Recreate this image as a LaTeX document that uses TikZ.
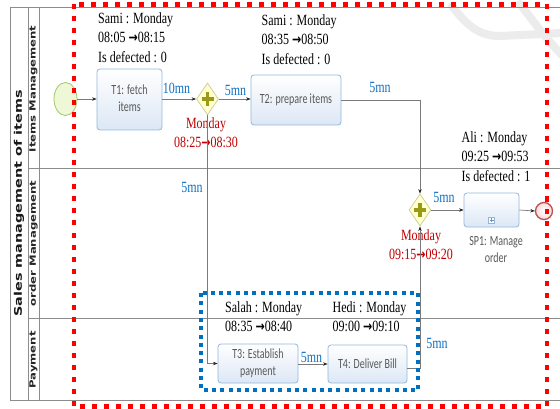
\documentclass[tikz,border=0pt]{standalone}
\usepackage{fontspec}
\setmainfont{Liberation Serif}
\newfontfamily\taskfont{Carlito}
\newfontfamily\lanefont{DejaVu Sans}
\usetikzlibrary{shapes.geometric,arrows.meta}
\definecolor{poolgray}{HTML}{8C8C8C}
\definecolor{flowgray}{HTML}{7A7A7A}
\definecolor{taskborder}{HTML}{93B6DD}
\definecolor{taskfill}{HTML}{DCE7F5}
\definecolor{taskgray}{HTML}{595959}
\definecolor{timeblue}{HTML}{1070C4}
\definecolor{lblred}{HTML}{C00000}
\definecolor{gwfill}{HTML}{FFFFD2}
\definecolor{gwborder}{HTML}{D2CF9A}
\definecolor{gwplus}{HTML}{9A9A14}
\definecolor{startfill}{HTML}{EEF7D6}
\definecolor{startborder}{HTML}{A4C86A}
\definecolor{endborder}{HTML}{C0504D}
\definecolor{endfill}{HTML}{F8DCDC}
\definecolor{boxred}{HTML}{FF0000}
\definecolor{boxblue}{HTML}{0070C0}
\definecolor{wmgray}{HTML}{ECECEC}
\newcommand\vser[1]{\scalebox{1}[1.3]{#1}}
\newcommand\vtask[1]{\scalebox{1}[1.4]{#1}}
\newcommand\hlane[1]{\scalebox{1.37}[1]{#1}}
\newcommand\rarr{{\lanefont\bfseries\fontsize{11}{15}\selectfont →}}
\tikzset{
  pool/.style={draw=poolgray, line width=0.9pt},
  flow/.style={draw=flowgray, line width=0.7pt, -{Stealth[length=4.5pt,width=3.4pt,color=black!85]}},
  task/.style={draw=taskborder, rounded corners=3pt, top color=white, bottom color=taskfill, line width=0.8pt, inner sep=0pt, font=\taskfont\fontsize{10}{12}\selectfont, text=taskgray},
  info/.style={anchor=north west, inner sep=0pt, font=\fontsize{12}{15}\selectfont},
  timelbl/.style={text=timeblue, inner sep=0pt, font=\fontsize{12}{15}\selectfont},
  redlbl/.style={text=lblred, anchor=north, inner sep=0pt, font=\fontsize{12}{15}\selectfont},
  gw/.style={diamond, draw=gwborder, fill=gwfill, minimum width=22pt, minimum height=32pt, inner sep=0pt, line width=0.8pt},
  plusline/.style={draw=gwplus, line width=3.2pt},
  lanelbl/.style={rotate=90, inner sep=0pt, text=black!85, font=\lanefont\bfseries\fontsize{8.5}{10}\selectfont},
  wm/.style={draw=wmgray, line width=8pt, line cap=round},
  reddash/.style={draw=boxred, line width=4.5pt, dash pattern=on 5pt off 7pt},
  bluedot/.style={draw=boxblue, line width=3.5pt, dash pattern=on 4pt off 4.3pt},
}
\begin{document}
\begin{tikzpicture}[x=1pt,y=-1pt]
\useasboundingbox (0,0) rectangle (560,409);
\fill[white] (0,0) rectangle (560,409);
% watermark
\draw[wm] (452,6) .. controls (468,27) and (480,36) .. (500,36) -- (562,33);
\draw[wm] (520,4) .. controls (534,22) and (547,40) .. (562,55);
% pool and lanes
\draw[pool] (10,7.5) -- (565,7.5);
\draw[pool] (10,7.5) -- (10,400) -- (565,400);
\draw[pool] (28,7.5) -- (28,400);
\draw[pool] (39,7.5) -- (39,400);
\draw[pool] (28,168.5) -- (565,168.5);
\draw[pool] (28,318) -- (565,318);
\node[rotate=90, inner sep=0pt, text=black!90, font=\lanefont\bfseries\fontsize{10.5}{12}\selectfont] (title) at (19,203.5) {\hlane{Sales management of items}};
\node[lanelbl] (laneA) at (33.5,89) {\hlane{Items Management}};
\node[lanelbl] (laneB) at (33.5,243.5) {\hlane{order Management}};
\node[lanelbl] (laneC) at (33.5,360) {\hlane{Payment}};
% events
\node[ellipse, draw=startborder, fill=startfill, line width=0.8pt, minimum width=23pt, minimum height=33pt, inner sep=0pt] (start) at (65.5,99) {};
\node[circle, draw=endborder, inner color=white, outer color=endfill, line width=1.3pt, minimum size=17pt, inner sep=0pt] (end) at (544,211) {};
% tasks
\node[task, minimum width=65pt, minimum height=61pt] (T1) at (129.5,99.5) {\vtask{\begin{tabular}{@{}c@{}}T1: fetch\\items\end{tabular}}};
\node[task, minimum width=90pt, minimum height=50pt] (T2) at (296,100) {\vtask{T2: prepare items}};
\node[task, minimum width=80pt, minimum height=39pt] (T3) at (258,363.5) {\vtask{\begin{tabular}{@{}c@{}}T3: Establish\\payment\end{tabular}}};
\node[task, minimum width=79pt, minimum height=38pt] (T4) at (367.5,364) {\vtask{T4: Deliver Bill}};
\node[task, minimum width=55pt, minimum height=34pt] (SP1) at (491.5,210) {};
\node[draw=taskborder, fill=white, line width=0.6pt, minimum size=6pt, inner sep=0pt] (SP1mark) at (491.5,220) {};
\draw[draw=taskborder!80!black, line width=0.5pt] ([xshift=-2pt]SP1mark.center) -- ([xshift=2pt]SP1mark.center) ([yshift=-2pt]SP1mark.center) -- ([yshift=2pt]SP1mark.center);
\node[anchor=north, inner sep=0pt, text=taskgray, font=\taskfont\fontsize{10}{12}\selectfont] (SP1lbl) at (496,234) {\vtask{\begin{tabular}{@{}c@{}}SP1: Manage\\order\end{tabular}}};
% gateways
\node[gw] (G1) at (207.5,99) {};
\node[gw] (G2) at (420,210) {};
\foreach \g in {G1,G2}{
  \draw[plusline] ([xshift=-6pt]\g.center) -- ([xshift=6pt]\g.center);
  \draw[plusline] ([yshift=-7pt]\g.center) -- ([yshift=7pt]\g.center);
}
% info texts
\node[info] (infoT1) at (98,9.4) {\vser{\begin{tabular}{@{}l@{}}Sami : Monday\\08:05 \rarr08:15\\Is defected : 0\end{tabular}}};
\node[info] (infoT2) at (261.5,11.4) {\vser{\begin{tabular}{@{}l@{}}Sami : Monday\\08:35 \rarr08:50\\Is defected : 0\end{tabular}}};
\node[info] (infoSP1) at (461.5,128.5) {\vser{\begin{tabular}{@{}l@{}}Ali : Monday\\09:25 \rarr09:53\\Is defected : 1\end{tabular}}};
\node[info] (infoT3) at (225,298.4) {\vser{\begin{tabular}{@{}l@{}}Salah : Monday\\08:35 \rarr08:40\end{tabular}}};
\node[info] (infoT4) at (332.5,298.4) {\vser{\begin{tabular}{@{}l@{}}Hedi : Monday\\09:00 \rarr09:10\end{tabular}}};
\node[redlbl] (G1lbl) at (206,114.4) {\vser{\begin{tabular}{@{}c@{}}Monday\\08:25\rarr08:30\end{tabular}}};
\node[redlbl] (G2lbl) at (421,226.4) {\vser{\begin{tabular}{@{}c@{}}Monday\\09:15\rarr09:20\end{tabular}}};
% flows
\draw[flow] (start.east) -- (start.east -| T1.west);
\draw[flow] (T1.east |- G1.west) -- (G1.west);
\draw[flow] (G1.east) -- (G1.east -| T2.west);
\draw[flow] (T2.east) -| (G2.north);
\draw[flow] (G1.south) |- (T3.west);
\draw[flow] (T3.east |- T4.west) -- (T4.west);
\draw[flow] ([yshift=-4pt]T4.east) -| (G2.south);
\draw[flow] (G2.east) -- (SP1.west);
\draw[flow] (SP1.east) -- (end.west);
% durations
\node[timelbl] (d1) at (176.5,88.5) {\vser{10mn}};
\node[timelbl] (d2) at (235.5,90) {\vser{5mn}};
\node[timelbl] (d3) at (380,87) {\vser{5mn}};
\node[timelbl] (d4) at (192,187) {\vser{5mn}};
\node[timelbl] (d5) at (444,197.5) {\vser{5mn}};
\node[timelbl] (d6) at (311.5,357.5) {\vser{5mn}};
\node[timelbl] (d7) at (437,343) {\vser{5mn}};
% highlight boxes
\draw[bluedot] (201,293) rectangle (418,390);
\draw[reddash] (74,4.5) rectangle (547,406.5);
\end{tikzpicture}
\end{document}
